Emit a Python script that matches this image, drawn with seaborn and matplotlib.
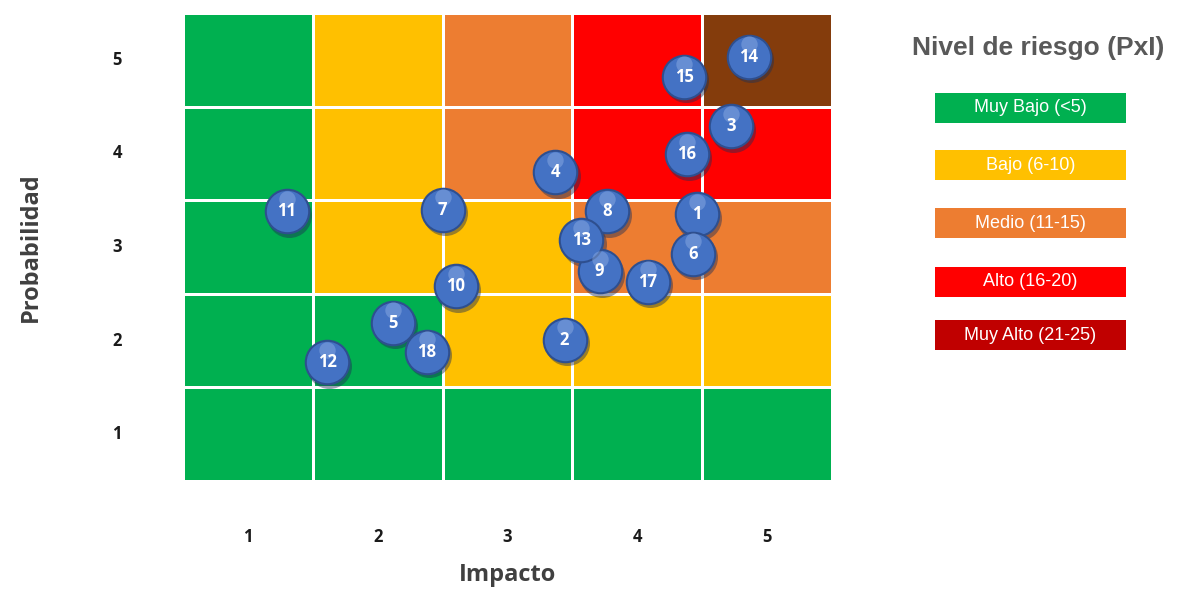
import numpy as np
import pandas as pd
import seaborn as sns
import matplotlib.pyplot as plt
from matplotlib.colors import ListedColormap
from matplotlib.patches import Rectangle
import matplotlib.transforms as mtransforms

sns.set_style("white")
plt.rcParams['font.family'] = ['Liberation Sans', 'DejaVu Sans']

# Datos
impacto_labels = ["1", "2", "3", "4", "5"]
prob_labels = ["1", "2", "3", "4", "5"]

# nivel de cada celda (filas = probabilidad 1..5, columnas = impacto 1..5)
# 0 muy bajo, 1 bajo, 2 medio, 3 alto, 4 muy alto
nivel_p1 = [0, 0, 0, 0, 0]
nivel_p2 = [0, 0, 1, 1, 1]
nivel_p3 = [0, 1, 1, 2, 2]
nivel_p4 = [0, 1, 2, 3, 3]
nivel_p5 = [0, 1, 2, 3, 4]

colores_celda = ["#00B050", "#FFC000", "#ED7D31", "#FF0000", "#843C0C"]

# riesgos
riesgo_id = [1, 2, 3, 4, 5, 6, 7, 8, 9, 10, 11, 12, 13, 14, 15, 16, 17, 18]
riesgo_imp = [4.46, 3.44, 4.72, 3.37, 2.12, 4.43, 2.50, 3.77, 3.71, 2.60,
              1.30, 1.61, 3.57, 4.86, 4.36, 4.38, 4.08, 2.38]
riesgo_prob = [3.35, 2.01, 4.29, 3.80, 2.19, 2.93, 3.40, 3.38, 2.74, 2.58,
               3.38, 1.77, 3.07, 5.03, 4.82, 3.99, 2.63, 1.88]

leyenda_txt = ["Muy Bajo (<5)", "Bajo (6-10)", "Medio (11-15)", "Alto (16-20)", "Muy Alto (21-25)"]
leyenda_col = ["#00B050", "#FFC000", "#ED7D31", "#FF0000", "#C00000"]

matriz = pd.DataFrame([nivel_p1, nivel_p2, nivel_p3, nivel_p4, nivel_p5],
                      index=prob_labels, columns=impacto_labels)

fig = plt.figure(figsize=(11.89, 5.95), dpi=100)
ax = fig.add_axes([0.1539, 0.1916, 0.5458, 0.7866])

sns.heatmap(matriz, cmap=ListedColormap(colores_celda), vmin=-0.5, vmax=4.5,
            cbar=False, linewidths=2, linecolor="white", ax=ax)
ax.set_ylim(0, 5)

# burbujas (heatmap usa celdas 0..5, centro de la categoria k en k-0.5)
df = pd.DataFrame({"id": riesgo_id,
                   "x": np.array(riesgo_imp) - 0.5,
                   "y": np.array(riesgo_prob) - 0.5})

sombra = mtransforms.offset_copy(ax.transData, fig=fig, x=1.5, y=-2.5, units='points')
ax.scatter(df["x"], df["y"], s=1050, color="#1f2f55", alpha=0.45,
           transform=sombra, zorder=3, linewidths=0, clip_on=False)
sns.scatterplot(data=df, x="x", y="y", s=980, color="#4472C4",
                edgecolor="#2E4F8F", linewidth=1.5, ax=ax, zorder=4, clip_on=False)
brillo = mtransforms.offset_copy(ax.transData, fig=fig, x=0, y=9, units='points')
ax.scatter(df["x"], df["y"], s=140, color="#A9C4F0", alpha=0.35,
           transform=brillo, zorder=5, linewidths=0, clip_on=False, marker="o")
for i, x, y in zip(riesgo_id, df["x"], df["y"]):
    ax.text(x, y, str(i), color="white", fontsize=12,
            fontweight="bold", ha="center", va="center", zorder=6,
            family=['Open Sans', 'DejaVu Sans'])

ax.set_xlabel("Impacto", fontsize=17, fontweight="bold", color="#404040",
              labelpad=12, family=['Open Sans', 'DejaVu Sans'])
ax.set_ylabel("Probabilidad", fontsize=17, fontweight="bold", color="#404040",
              labelpad=50, family=['Open Sans', 'DejaVu Sans'])
ax.tick_params(axis="x", length=0, pad=34)
ax.tick_params(axis="y", length=0, pad=44)
for t in ax.get_xticklabels() + ax.get_yticklabels():
    t.set_fontsize(12)
    t.set_fontweight("bold")
    t.set_color("#1a1a1a")
    t.set_family(['Open Sans', 'DejaVu Sans'])
    t.set_rotation(0)

# leyenda a la derecha
fig.text(1038 / 1189, 1 - 48 / 595, "Nivel de riesgo (PxI)", fontsize=19,
         fontweight="bold", color="#595959", ha="center", va="center")
cajas_y = [93, 150, 208, 267, 320]
for yy, txt, col in zip(cajas_y, leyenda_txt, leyenda_col):
    fig.patches.append(Rectangle((935 / 1189, 1 - (yy + 30) / 595), 191 / 1189, 30 / 595,
                                 transform=fig.transFigure, facecolor=col, edgecolor="none"))
    fig.text(1030.5 / 1189, 1 - (yy + 15) / 595, txt, fontsize=13, color="white",
             ha="center", va="center")

fig.savefig("out.png", dpi=100)
